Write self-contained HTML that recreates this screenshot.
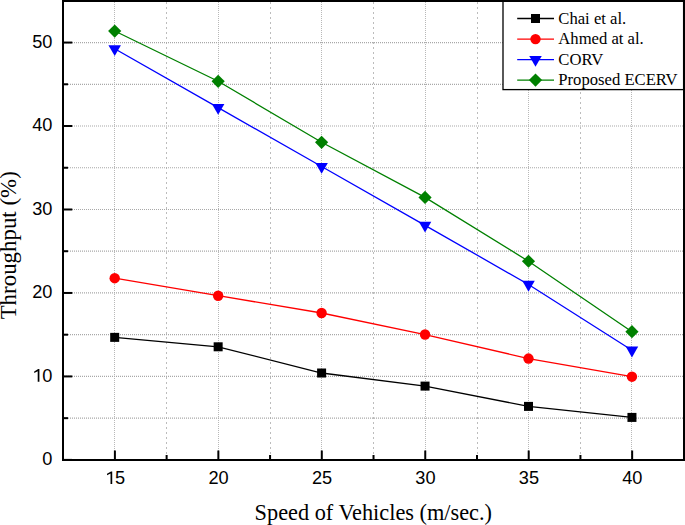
<!DOCTYPE html>
<html><head><meta charset="utf-8"><style>
html,body{margin:0;padding:0;background:#fff;}
svg{display:block;}
</style></head><body>
<svg width="685" height="525" viewBox="0 0 685 525">
<rect width="685" height="525" fill="#fff"/>
<line x1="166.5" y1="2" x2="166.5" y2="459" stroke="#bcbcbc" stroke-width="1" stroke-dasharray="2,3"/>
<line x1="270.5" y1="2" x2="270.5" y2="459" stroke="#bcbcbc" stroke-width="1" stroke-dasharray="2,3"/>
<line x1="373.5" y1="2" x2="373.5" y2="459" stroke="#bcbcbc" stroke-width="1" stroke-dasharray="2,3"/>
<line x1="477.5" y1="2" x2="477.5" y2="459" stroke="#bcbcbc" stroke-width="1" stroke-dasharray="2,3"/>
<line x1="580.5" y1="2" x2="580.5" y2="459" stroke="#bcbcbc" stroke-width="1" stroke-dasharray="2,3"/>
<line x1="114.5" y1="2" x2="114.5" y2="459" stroke="#b8b8b8" stroke-width="1" stroke-dasharray="1,1"/>
<line x1="218.5" y1="2" x2="218.5" y2="459" stroke="#b8b8b8" stroke-width="1" stroke-dasharray="1,1"/>
<line x1="321.5" y1="2" x2="321.5" y2="459" stroke="#b8b8b8" stroke-width="1" stroke-dasharray="1,1"/>
<line x1="425.5" y1="2" x2="425.5" y2="459" stroke="#b8b8b8" stroke-width="1" stroke-dasharray="1,1"/>
<line x1="528.5" y1="2" x2="528.5" y2="459" stroke="#b8b8b8" stroke-width="1" stroke-dasharray="1,1"/>
<line x1="631.5" y1="2" x2="631.5" y2="459" stroke="#b8b8b8" stroke-width="1" stroke-dasharray="1,1"/>
<line x1="64" y1="418.16" x2="683" y2="418.16" stroke="#a8a8a8" stroke-width="1.2" stroke-dasharray="1,1"/>
<line x1="64" y1="376.43" x2="683" y2="376.43" stroke="#a8a8a8" stroke-width="1.2" stroke-dasharray="1,1"/>
<line x1="64" y1="334.69" x2="683" y2="334.69" stroke="#a8a8a8" stroke-width="1.2" stroke-dasharray="1,1"/>
<line x1="64" y1="292.96" x2="683" y2="292.96" stroke="#a8a8a8" stroke-width="1.2" stroke-dasharray="1,1"/>
<line x1="64" y1="251.22" x2="683" y2="251.22" stroke="#a8a8a8" stroke-width="1.2" stroke-dasharray="1,1"/>
<line x1="64" y1="209.49" x2="683" y2="209.49" stroke="#a8a8a8" stroke-width="1.2" stroke-dasharray="1,1"/>
<line x1="64" y1="167.75" x2="683" y2="167.75" stroke="#a8a8a8" stroke-width="1.2" stroke-dasharray="1,1"/>
<line x1="64" y1="126.02" x2="683" y2="126.02" stroke="#a8a8a8" stroke-width="1.2" stroke-dasharray="1,1"/>
<line x1="64" y1="84.29" x2="683" y2="84.29" stroke="#a8a8a8" stroke-width="1.2" stroke-dasharray="1,1"/>
<line x1="64" y1="42.55" x2="683" y2="42.55" stroke="#a8a8a8" stroke-width="1.2" stroke-dasharray="1,1"/>
<polyline points="114.70,337.37 218.15,346.80 321.60,373.01 425.05,386.11 528.50,406.40 631.95,417.41" fill="none" stroke="#000" stroke-width="1.3"/>
<polyline points="114.70,278.19 218.15,295.71 321.60,312.99 425.05,334.53 528.50,358.57 631.95,376.68" fill="none" stroke="#f00" stroke-width="1.3"/>
<polyline points="114.70,48.73 218.15,107.66 321.60,166.50 425.05,225.35 528.50,284.45 631.95,350.22" fill="none" stroke="#00f" stroke-width="1.3"/>
<polyline points="114.70,31.03 218.15,81.28 321.60,142.30 425.05,197.39 528.50,261.24 631.95,331.69" fill="none" stroke="#008000" stroke-width="1.3"/>
<rect x="110.20" y="332.87" width="9" height="9" fill="#000"/>
<rect x="213.65" y="342.30" width="9" height="9" fill="#000"/>
<rect x="317.10" y="368.51" width="9" height="9" fill="#000"/>
<rect x="420.55" y="381.61" width="9" height="9" fill="#000"/>
<rect x="524.00" y="401.90" width="9" height="9" fill="#000"/>
<rect x="627.45" y="412.91" width="9" height="9" fill="#000"/>
<circle cx="114.70" cy="278.19" r="5.2" fill="#f00"/>
<circle cx="218.15" cy="295.71" r="5.2" fill="#f00"/>
<circle cx="321.60" cy="312.99" r="5.2" fill="#f00"/>
<circle cx="425.05" cy="334.53" r="5.2" fill="#f00"/>
<circle cx="528.50" cy="358.57" r="5.2" fill="#f00"/>
<circle cx="631.95" cy="376.68" r="5.2" fill="#f00"/>
<polygon points="108.45,45.13 120.95,45.13 114.70,55.93" fill="#00f"/>
<polygon points="211.90,104.06 224.40,104.06 218.15,114.86" fill="#00f"/>
<polygon points="315.35,162.90 327.85,162.90 321.60,173.70" fill="#00f"/>
<polygon points="418.80,221.75 431.30,221.75 425.05,232.55" fill="#00f"/>
<polygon points="522.25,280.85 534.75,280.85 528.50,291.65" fill="#00f"/>
<polygon points="625.70,346.62 638.20,346.62 631.95,357.42" fill="#00f"/>
<polygon points="114.70,24.43 121.30,31.03 114.70,37.63 108.10,31.03" fill="#008000"/>
<polygon points="218.15,74.68 224.75,81.28 218.15,87.88 211.55,81.28" fill="#008000"/>
<polygon points="321.60,135.70 328.20,142.30 321.60,148.90 315.00,142.30" fill="#008000"/>
<polygon points="425.05,190.79 431.65,197.39 425.05,203.99 418.45,197.39" fill="#008000"/>
<polygon points="528.50,254.64 535.10,261.24 528.50,267.84 521.90,261.24" fill="#008000"/>
<polygon points="631.95,325.09 638.55,331.69 631.95,338.29 625.35,331.69" fill="#008000"/>
<line x1="114.90" y1="460" x2="114.90" y2="450.5" stroke="#000" stroke-width="2"/>
<line x1="218.35" y1="460" x2="218.35" y2="450.5" stroke="#000" stroke-width="2"/>
<line x1="321.80" y1="460" x2="321.80" y2="450.5" stroke="#000" stroke-width="2"/>
<line x1="425.25" y1="460" x2="425.25" y2="450.5" stroke="#000" stroke-width="2"/>
<line x1="528.70" y1="460" x2="528.70" y2="450.5" stroke="#000" stroke-width="2"/>
<line x1="632.15" y1="460" x2="632.15" y2="450.5" stroke="#000" stroke-width="2"/>
<line x1="166.62" y1="460" x2="166.62" y2="455" stroke="#000" stroke-width="2"/>
<line x1="270.07" y1="460" x2="270.07" y2="455" stroke="#000" stroke-width="2"/>
<line x1="373.52" y1="460" x2="373.52" y2="455" stroke="#000" stroke-width="2"/>
<line x1="476.98" y1="460" x2="476.98" y2="455" stroke="#000" stroke-width="2"/>
<line x1="580.43" y1="460" x2="580.43" y2="455" stroke="#000" stroke-width="2"/>
<line x1="63" y1="459.90" x2="72.3" y2="459.90" stroke="#000" stroke-width="2"/>
<line x1="63" y1="376.43" x2="72.3" y2="376.43" stroke="#000" stroke-width="2"/>
<line x1="63" y1="292.96" x2="72.3" y2="292.96" stroke="#000" stroke-width="2"/>
<line x1="63" y1="209.49" x2="72.3" y2="209.49" stroke="#000" stroke-width="2"/>
<line x1="63" y1="126.02" x2="72.3" y2="126.02" stroke="#000" stroke-width="2"/>
<line x1="63" y1="42.55" x2="72.3" y2="42.55" stroke="#000" stroke-width="2"/>
<line x1="63" y1="418.16" x2="68" y2="418.16" stroke="#000" stroke-width="2"/>
<line x1="63" y1="334.69" x2="68" y2="334.69" stroke="#000" stroke-width="2"/>
<line x1="63" y1="251.22" x2="68" y2="251.22" stroke="#000" stroke-width="2"/>
<line x1="63" y1="167.75" x2="68" y2="167.75" stroke="#000" stroke-width="2"/>
<line x1="63" y1="84.29" x2="68" y2="84.29" stroke="#000" stroke-width="2"/>
<rect x="503.0" y="1" width="180.60000000000002" height="88.6" fill="#fff" stroke="#000" stroke-width="1.3"/>
<line x1="517.2" y1="18.5" x2="554" y2="18.5" stroke="#000" stroke-width="1.3"/>
<rect x="531.00" y="14.00" width="9" height="9" fill="#000"/>
<text x="558.3" y="23.8" font-family="Liberation Serif" font-size="16.65" fill="#000">Chai et al.</text>
<line x1="517.2" y1="39.1" x2="554" y2="39.1" stroke="#f00" stroke-width="1.3"/>
<circle cx="535.50" cy="39.10" r="5.2" fill="#f00"/>
<text x="558.3" y="44.4" font-family="Liberation Serif" font-size="16.65" fill="#000">Ahmed at al.</text>
<line x1="517.2" y1="59.6" x2="554" y2="59.6" stroke="#00f" stroke-width="1.3"/>
<polygon points="529.25,56.00 541.75,56.00 535.50,66.80" fill="#00f"/>
<text x="558.3" y="64.9" font-family="Liberation Serif" font-size="16.65" fill="#000">CORV</text>
<line x1="517.2" y1="80.1" x2="554" y2="80.1" stroke="#008000" stroke-width="1.3"/>
<polygon points="535.50,73.50 542.10,80.10 535.50,86.70 528.90,80.10" fill="#008000"/>
<text x="558.3" y="85.4" font-family="Liberation Serif" font-size="16.65" fill="#000">Proposed ECERV</text>
<line x1="63" y1="0" x2="63" y2="461" stroke="#000" stroke-width="2"/>
<line x1="62" y1="460" x2="685" y2="460" stroke="#000" stroke-width="2"/>
<line x1="62" y1="1" x2="685" y2="1" stroke="#000" stroke-width="2"/>
<line x1="684" y1="0" x2="684" y2="461" stroke="#000" stroke-width="2"/>
<g transform="translate(42.28,465.10) scale(1,1.0)">
<text x="0" y="0" font-family="Liberation Sans" font-size="18.2" fill="#000">0</text>
</g>
<g transform="translate(32.16,381.63) scale(1,1.0)">
<text x="0" y="0" font-family="Liberation Sans" font-size="18.2" fill="#000"> 0</text>
<path transform="translate(0.00,0) scale(0.008887,-0.008887)" d="M624,0 L624,1180 L230,985 L230,1145 L680,1409 L815,1409 L815,0 Z" fill="#000"/>
</g>
<g transform="translate(32.16,298.16) scale(1,1.0)">
<text x="0" y="0" font-family="Liberation Sans" font-size="18.2" fill="#000">20</text>
</g>
<g transform="translate(32.16,214.69) scale(1,1.0)">
<text x="0" y="0" font-family="Liberation Sans" font-size="18.2" fill="#000">30</text>
</g>
<g transform="translate(32.16,131.22) scale(1,1.0)">
<text x="0" y="0" font-family="Liberation Sans" font-size="18.2" fill="#000">40</text>
</g>
<g transform="translate(32.16,47.75) scale(1,1.0)">
<text x="0" y="0" font-family="Liberation Sans" font-size="18.2" fill="#000">50</text>
</g>
<g transform="translate(104.98,484.00) scale(1,1.0)">
<text x="0" y="0" font-family="Liberation Sans" font-size="18.2" fill="#000"> 5</text>
<path transform="translate(0.00,0) scale(0.008887,-0.008887)" d="M624,0 L624,1180 L230,985 L230,1145 L680,1409 L815,1409 L815,0 Z" fill="#000"/>
</g>
<g transform="translate(208.43,484.00) scale(1,1.0)">
<text x="0" y="0" font-family="Liberation Sans" font-size="18.2" fill="#000">20</text>
</g>
<g transform="translate(311.88,484.00) scale(1,1.0)">
<text x="0" y="0" font-family="Liberation Sans" font-size="18.2" fill="#000">25</text>
</g>
<g transform="translate(415.33,484.00) scale(1,1.0)">
<text x="0" y="0" font-family="Liberation Sans" font-size="18.2" fill="#000">30</text>
</g>
<g transform="translate(518.78,484.00) scale(1,1.0)">
<text x="0" y="0" font-family="Liberation Sans" font-size="18.2" fill="#000">35</text>
</g>
<g transform="translate(622.23,484.00) scale(1,1.0)">
<text x="0" y="0" font-family="Liberation Sans" font-size="18.2" fill="#000">40</text>
</g>
<text x="373.3" y="520" text-anchor="middle" font-family="Liberation Serif" font-size="22.3" fill="#000">Speed of Vehicles (m/sec.)</text>
<text transform="translate(16.3,245.3) rotate(-90)" x="0" y="0" text-anchor="middle" font-family="Liberation Serif" font-size="22.9" fill="#000">Throughput (%)</text>
</svg>
</body></html>
